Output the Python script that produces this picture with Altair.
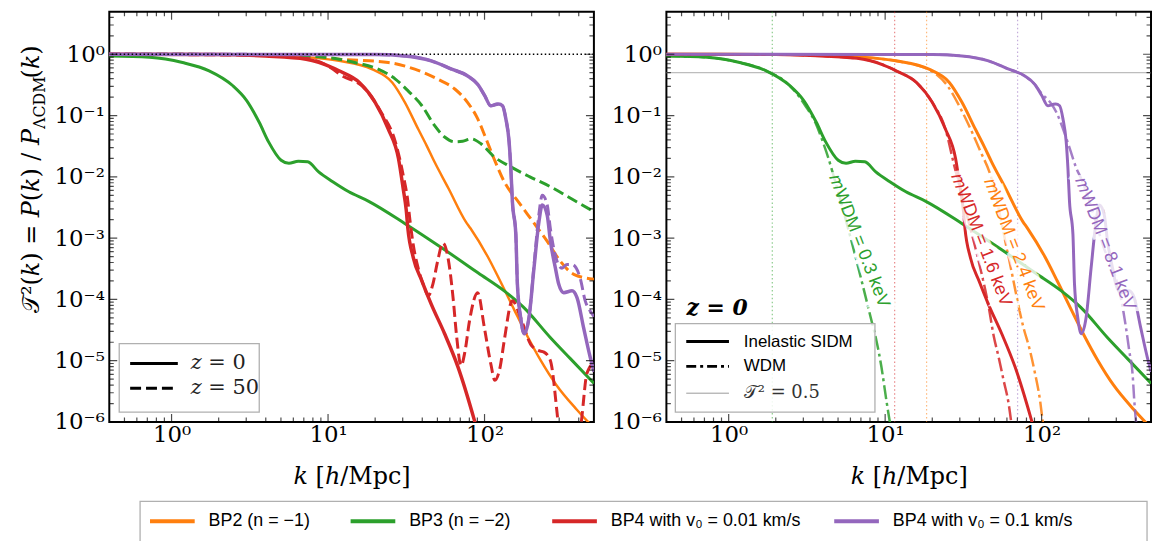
import altair as alt
import numpy as np
import pandas as pd

SERIF = "DejaVu Serif"
SANS = "Liberation Sans"

MODELS = ["BP2 (n = −1)", "BP3 (n = −2)", "BP4 with v₀ = 0.01 km/s", "BP4 with v₀ = 0.1 km/s"]
COLORS = ["#ff7f0e", "#2ca02c", "#d62728", "#9467bd"]

# ---- values, written as decimal exponents (log10) ----
# BP2 (orange)
BP2_Z0_LOGK = [-0.40, 0.40, 0.60, 0.81, 1.07, 1.28, 1.41, 1.49, 1.576, 1.63, 1.68, 1.77, 1.88, 1.91, 2.02, 2.10, 2.19, 2.27, 2.36, 2.46, 2.59, 2.70]
BP2_Z0_LOGT = [0.0, -0.005, -0.015, -0.04, -0.107, -0.243, -0.46, -0.78, -1.22, -1.49, -1.755, -2.19, -2.73, -2.84, -3.30, -3.70, -4.17, -4.58, -5.0, -5.40, -5.80, -6.1]
BP2_Z50_LOGK = [-0.40, 0.60, 0.87, 1.07, 1.385, 1.554, 1.70, 1.81, 1.89, 1.956, 2.01, 2.06, 2.126, 2.22, 2.30, 2.40, 2.485, 2.57, 2.70]
BP2_Z50_LOGT = [0.0, -0.005, -0.03, -0.08, -0.135, -0.243, -0.405, -0.567, -0.78, -1.05, -1.38, -1.70, -2.08, -2.42, -2.70, -3.05, -3.38, -3.59, -3.67]
# BP3 (green)
BP3_Z0_LOGK = [-0.40, -0.14, 0.07, 0.24, 0.39, 0.48, 0.56, 0.62, 0.70, 0.75, 0.81, 0.87, 0.94, 1.03, 1.13, 1.26, 1.49, 1.745, 1.96, 2.13, 2.25, 2.42, 2.55, 2.70]
BP3_Z0_LOGT = [-0.03, -0.05, -0.135, -0.27, -0.51, -0.755, -1.11, -1.43, -1.73, -1.78, -1.745, -1.755, -1.92, -2.08, -2.24, -2.40, -2.76, -3.19, -3.57, -3.87, -4.13, -4.62, -4.97, -5.37]
BP3_Z50_LOGK = [-0.40, 0.60, 0.87, 1.07, 1.17, 1.32, 1.43, 1.51, 1.60, 1.68, 1.745, 1.81, 1.86, 1.914, 1.977, 2.06, 2.17, 2.29, 2.42, 2.55, 2.70]
BP3_Z50_LOGT = [0.0, -0.005, -0.03, -0.08, -0.135, -0.243, -0.405, -0.594, -0.84, -1.16, -1.35, -1.43, -1.42, -1.38, -1.46, -1.67, -1.84, -2.0, -2.16, -2.35, -2.57]
# BP4, v0 = 0.01 km/s (red)
BP4A_Z0_LOGK = [-0.40, 0.30, 0.60, 0.86, 1.03, 1.07, 1.20, 1.30, 1.385, 1.45, 1.48, 1.50, 1.51, 1.545, 1.60, 1.66, 1.745, 1.83, 1.935, 1.96]
BP4A_Z0_LOGT = [0.0, -0.005, -0.03, -0.08, -0.22, -0.27, -0.46, -0.78, -1.22, -1.70, -2.19, -2.55, -2.84, -3.32, -3.70, -4.08, -4.56, -5.10, -5.97, -6.2]
BP4A_Z50_LOGK = [-0.40, 0.60, 0.86, 1.03, 1.07, 1.24, 1.34, 1.43, 1.48, 1.51, 1.523, 1.544, 1.576, 1.615, 1.64, 1.67, 1.70, 1.734, 1.777, 1.80, 1.82, 1.85, 1.875, 1.904, 1.956, 1.999, 2.04, 2.066, 2.10, 2.126, 2.178, 2.231, 2.294, 2.34, 2.38, 2.421, 2.464, 2.50, 2.58, 2.622, 2.654, 2.70]
BP4A_Z50_LOGT = [0.0, -0.02, -0.07, -0.24, -0.32, -0.57, -0.95, -1.43, -1.97, -2.40, -2.70, -3.10, -3.49, -3.80, -3.94, -3.75, -3.38, -3.08, -3.49, -4.0, -4.56, -5.08, -4.85, -4.35, -3.89, -4.46, -5.05, -5.32, -5.10, -4.67, -4.02, -4.30, -4.73, -4.83, -4.86, -5.0, -5.86, -6.8, -6.8, -5.92, -5.21, -5.03]
# BP4, v0 = 0.1 km/s (purple)
BP4B_Z0_LOGK = [-0.40, 1.30, 1.49, 1.66, 1.79, 1.89, 1.956, 2.0, 2.04, 2.07, 2.09, 2.115, 2.136, 2.157, 2.168, 2.178, 2.20, 2.21, 2.231, 2.253, 2.284, 2.316, 2.348, 2.369, 2.40, 2.421, 2.453, 2.474, 2.506, 2.559, 2.591, 2.633, 2.675, 2.70]
BP4B_Z0_LOGT = [0.0, -0.005, -0.027, -0.107, -0.243, -0.35, -0.49, -0.67, -0.84, -0.82, -0.81, -0.84, -1.05, -1.43, -1.86, -2.40, -2.94, -3.75, -4.30, -4.56, -4.30, -3.49, -2.73, -2.46, -2.62, -3.05, -3.49, -3.75, -3.89, -3.86, -3.97, -4.46, -4.94, -5.18]
BP4B_Z50_LOGK = [-0.40, 1.30, 1.49, 1.66, 1.79, 1.89, 1.956, 2.0, 2.04, 2.07, 2.09, 2.115, 2.136, 2.157, 2.168, 2.178, 2.20, 2.21, 2.231, 2.253, 2.284, 2.316, 2.348, 2.369, 2.40, 2.421, 2.445, 2.464, 2.495, 2.527, 2.559, 2.611, 2.643, 2.675, 2.70]
BP4B_Z50_LOGT = [0.0, -0.005, -0.027, -0.107, -0.243, -0.35, -0.49, -0.67, -0.84, -0.82, -0.81, -0.84, -1.05, -1.43, -1.86, -2.40, -2.94, -3.75, -4.30, -4.56, -4.30, -3.45, -2.60, -2.30, -2.45, -2.85, -3.20, -3.38, -3.49, -3.43, -3.43, -3.65, -4.02, -4.19, -4.28]

# WDM counterparts (z = 0)
BP2_WDM_LOGK = [-0.40, 0.40, 0.60, 0.81, 1.07, 1.28, 1.40, 1.483, 1.546, 1.61, 1.673, 1.78, 1.884, 1.926, 1.958, 1.99, 2.006, 2.02]
BP2_WDM_LOGT = [0.0, -0.005, -0.015, -0.04, -0.11, -0.25, -0.52, -0.89, -1.22, -1.59, -1.97, -3.2, -4.46, -4.84, -5.21, -5.65, -5.97, -6.2]
BP3_WDM_LOGK = [-0.40, -0.14, 0.07, 0.24, 0.39, 0.49, 0.553, 0.595, 0.638, 0.669, 0.79, 0.913, 0.944, 0.976, 1.008, 1.03, 1.045]
BP3_WDM_LOGT = [-0.03, -0.05, -0.135, -0.27, -0.51, -0.84, -1.11, -1.38, -1.70, -1.97, -3.1, -4.35, -4.67, -5.10, -5.65, -6.0, -6.2]
BP4A_WDM_LOGK = [-0.40, 0.30, 0.60, 0.86, 1.03, 1.07, 1.20, 1.30, 1.385, 1.44, 1.52, 1.60, 1.66, 1.694, 1.725, 1.757, 1.789, 1.804, 1.815]
BP4A_WDM_LOGT = [0.0, -0.005, -0.03, -0.08, -0.22, -0.27, -0.46, -0.78, -1.22, -1.80, -2.6, -3.4, -4.1, -4.6, -4.94, -5.32, -5.70, -5.97, -6.2]
BP4B_WDM_LOGK = [-0.40, 1.30, 1.49, 1.66, 1.79, 1.89, 1.956, 2.0, 2.053, 2.095, 2.137, 2.18, 2.222, 2.253, 2.39, 2.518, 2.539, 2.56, 2.581, 2.592, 2.602, 2.615]
BP4B_WDM_LOGT = [0.0, -0.005, -0.027, -0.107, -0.243, -0.35, -0.49, -0.64, -0.78, -0.95, -1.22, -1.54, -1.86, -2.03, -3.1, -4.13, -4.46, -4.84, -5.21, -5.65, -5.97, -6.2]

# k where T^2 = 0.5 (vertical dotted lines), h/Mpc, per model
HALF_MODE_K = [18.4, 1.9, 11.5, 70.2]
# WDM masses (keV) and label anchors (k, T^2), per model
WDM_MASS = ["2.4", "0.3", "1.6", "8.1"]
LABEL_K = [66.0, 6.8, 41.0, 254.0]
LABEL_T = [7.9e-4, 8.9e-4, 9.3e-4, 8.1e-4]

# ---------------------------------------------------------------------------
W, H = 488, 413
XS = alt.Scale(type="log", domain=[0.4, 500], nice=False)
YS = alt.Scale(type="log", domain=[1e-6, 4.92], nice=False)
CS = alt.Scale(domain=MODELS, range=COLORS)
ONE = pd.DataFrame({"a": [0]})

XAXIS = alt.Axis(
    values=[1, 10, 100],
    labelExpr="'10' + ['⁰','¹','²'][round(log(datum.value)/LN10)]",
    ticks=False, domain=False, grid=False, tickSize=0, labelFlush=False,
    labelFont=SERIF, labelFontSize=23, labelPadding=2, labelColor="black",
    title="𝑘 [ℎ/Mpc]", titleFont=SERIF, titleFontSize=24, titleFontWeight="normal",
    titleColor="black", titlePadding=18,
)
YAXIS = alt.Axis(
    values=[1e-6, 1e-5, 1e-4, 1e-3, 1e-2, 1e-1, 1],
    labelExpr="'10' + ['⁰','⁻¹','⁻²','⁻³','⁻⁴','⁻⁵','⁻⁶'][-round(log(datum.value)/LN10)]",
    ticks=False, domain=False, grid=False, tickSize=0, labelFlush=False,
    labelFont=SERIF, labelFontSize=23, labelPadding=5, labelColor="black", title="",
)


def X(field):
    return alt.X(field, type="quantitative", scale=XS, axis=XAXIS)


def Y(field):
    return alt.Y(field, type="quantitative", scale=YS, axis=YAXIS)


def frame(model, logk, logt):
    return pd.DataFrame({"model": model, "k": 10.0 ** np.array(logk), "T2": 10.0 ** np.array(logt)})


def line(df, width, dash=None, opacity=1.0):
    kw = dict(strokeWidth=width, clip=True, interpolate="monotone", opacity=opacity)
    if dash:
        kw["strokeDash"] = dash
    return alt.Chart(df).mark_line(**kw).encode(
        x=X("k"), y=Y("T2"), color=alt.Color("model:N", scale=CS, legend=None)
    )


# tick positions (axis decoration)
x_major = [1, 10, 100]
x_minor = [m * 10.0 ** e for e in (-1, 0, 1, 2) for m in range(2, 10)]
x_minor = [v for v in x_minor if 0.45 < v < 490]
y_major = [10.0 ** e for e in range(-5, 1)]
y_minor = [m * 10.0 ** e for e in range(-6, 1) for m in range(2, 10)]
y_minor = [v for v in y_minor if v < 4.8]
XT = pd.DataFrame({"k": x_major + x_minor, "len": [16] * len(x_major) + [9] * len(x_minor)})
YT = pd.DataFrame({"T2": y_major + y_minor, "len": [16] * len(y_major) + [9] * len(y_minor)})


def tick_layers():
    out = []
    for yv in (0, H):
        out.append(alt.Chart(XT).mark_tick(clip=True, thickness=1.2, color="black").encode(
            x=X("k"), y=alt.value(yv), size=alt.Size("len:Q", scale=None)))
    for xv in (0, W):
        out.append(alt.Chart(YT).mark_tick(clip=True, thickness=1.2, color="black").encode(
            y=Y("T2"), x=alt.value(xv), size=alt.Size("len:Q", scale=None)))
    return out


def rect(x1, x2, y1, y2, **kw):
    return alt.Chart(ONE).mark_rect(**kw).encode(x=alt.value(x1), x2=alt.value(x2), y=alt.value(y1), y2=alt.value(y2))


def seg(x1, x2, y, **kw):
    return alt.Chart(ONE).mark_rule(**kw).encode(x=alt.value(x1), x2=alt.value(x2), y=alt.value(y))


def txt(x, y, s, **kw):
    return alt.Chart(ONE).mark_text(**kw).encode(x=alt.value(x), y=alt.value(y), text=alt.value(s))


Z0 = {
    MODELS[0]: (BP2_Z0_LOGK, BP2_Z0_LOGT),
    MODELS[1]: (BP3_Z0_LOGK, BP3_Z0_LOGT),
    MODELS[2]: (BP4A_Z0_LOGK, BP4A_Z0_LOGT),
    MODELS[3]: (BP4B_Z0_LOGK, BP4B_Z0_LOGT),
}
Z50 = {
    MODELS[0]: (BP2_Z50_LOGK, BP2_Z50_LOGT),
    MODELS[1]: (BP3_Z50_LOGK, BP3_Z50_LOGT),
    MODELS[2]: (BP4A_Z50_LOGK, BP4A_Z50_LOGT),
    MODELS[3]: (BP4B_Z50_LOGK, BP4B_Z50_LOGT),
}
WDM = {
    MODELS[0]: (BP2_WDM_LOGK, BP2_WDM_LOGT),
    MODELS[1]: (BP3_WDM_LOGK, BP3_WDM_LOGT),
    MODELS[2]: (BP4A_WDM_LOGK, BP4A_WDM_LOGT),
    MODELS[3]: (BP4B_WDM_LOGK, BP4B_WDM_LOGT),
}
LW = {MODELS[0]: 2.5, MODELS[1]: 3.0, MODELS[2]: 3.5, MODELS[3]: 3.5}

# ---------------------------- left panel -----------------------------------
L = []
for m in MODELS:
    L.append(line(frame(m, *Z0[m]), LW[m]))
    L.append(line(frame(m, *Z50[m]), 3.0, dash=[11, 5]))
L.append(alt.Chart(pd.DataFrame({"T2": [1.0]})).mark_rule(color="black", strokeWidth=1.5, strokeDash=[1.5, 2.5]).encode(
    y=Y("T2")))
L += tick_layers()
# z legend
L.append(rect(10, 151, 334, 403, fill="white", fillOpacity=0.85, stroke="#b0b0b0", strokeWidth=1.3))
L.append(seg(21, 69, 354, color="black", strokeWidth=3))
L.append(seg(21, 69, 379, color="black", strokeWidth=3, strokeDash=[11, 5]))
L.append(txt(82, 354, "𝑧 = 0", font=SERIF, fontSize=21, align="left", baseline="middle", color="#222"))
L.append(txt(82, 379, "𝑧 = 50", font=SERIF, fontSize=21, align="left", baseline="middle", color="#222"))
# y-axis title (with subscript)
L.append(txt(-71, 118, "𝒯²(𝑘)  =  𝑃(𝑘) / 𝑃", angle=270, align="right", baseline="alphabetic", font=SERIF, fontSize=24, color="black"))
L.append(txt(-65, 118, "ΛCDM", angle=270, align="left", baseline="alphabetic", font=SERIF, fontSize=16, color="black"))
L.append(txt(-71, 67, "(𝑘)", angle=270, align="left", baseline="alphabetic", font=SERIF, fontSize=24, color="black"))
# bottom colour legend
L.append(rect(31, 1045, 493, 534, fill="white", stroke="#b0b0b0", strokeWidth=1.3))
for m, c, sx in zip(MODELS, COLORS, [41, 243, 446, 730]):
    L.append(seg(sx, sx + 45, 513, color=c, strokeWidth=4))
    L.append(txt(sx + 59, 513, m, font=SANS, fontSize=18, align="left", baseline="middle", color="black"))

left = alt.layer(*L).properties(width=W, height=H)

# ---------------------------- right panel ----------------------------------
R = []
R.append(alt.Chart(pd.DataFrame({"model": MODELS, "k": HALF_MODE_K})).mark_rule(
    strokeWidth=1.2, strokeDash=[1.5, 2.5], opacity=0.55).encode(
    x=X("k"), color=alt.Color("model:N", scale=CS, legend=None)))
R.append(alt.Chart(pd.DataFrame({"T2": [0.5]})).mark_rule(color="#bdbdbd", strokeWidth=1.2).encode(y=Y("T2")))
for m in MODELS:
    R.append(line(frame(m, *Z0[m]), 3.0))
    R.append(line(frame(m, *WDM[m]), 2.5, dash=[14, 4, 3, 4], opacity=0.85))
LAB = pd.DataFrame({
    "model": MODELS, "k": LABEL_K, "T2": LABEL_T,
    "label": ["𝑚WDM = " + w + " keV" for w in WDM_MASS],
})
R.append(alt.Chart(LAB).mark_text(angle=69, font=SANS, fontSize=18, align="center", baseline="middle",
                                  stroke="white", strokeWidth=9, fill="white", opacity=0.8).encode(
    x=X("k"), y=Y("T2"), text="label:N"))
R.append(alt.Chart(LAB).mark_text(angle=69, font=SANS, fontSize=18, align="center", baseline="middle").encode(
    x=X("k"), y=Y("T2"), text="label:N", color=alt.Color("model:N", scale=CS, legend=None)))
R += tick_layers()
R.append(txt(51, 298, "z = 0", font=SERIF, fontSize=22, fontWeight="bold", fontStyle="italic", align="center", baseline="middle", color="black"))
R.append(rect(9, 210, 314, 403, fill="white", fillOpacity=0.85, stroke="#b0b0b0", strokeWidth=1.3))
R.append(seg(20, 63, 332, color="black", strokeWidth=3))
R.append(seg(20, 63, 357, color="black", strokeWidth=3, strokeDash=[10, 4, 3, 4]))
R.append(seg(20, 63, 384, color="#999999", strokeWidth=1))
R.append(txt(78, 332, "Inelastic SIDM", font=SANS, fontSize=17, align="left", baseline="middle", color="black"))
R.append(txt(78, 357, "WDM", font=SANS, fontSize=17, align="left", baseline="middle", color="black"))
R.append(txt(78, 384, "𝒯² = 0.5", font=SERIF, fontSize=18, align="left", baseline="middle", color="#333"))

right = alt.layer(*R).properties(width=W, height=H)

chart = (
    alt.hconcat(left, right, spacing=73, bounds="flush")
    .properties(padding={"left": 11, "top": 0, "right": 0, "bottom": 0})
    .configure_view(stroke="black", strokeWidth=2)
)

chart.save("out.html", embed_options={"renderer": "svg", "actions": False})
